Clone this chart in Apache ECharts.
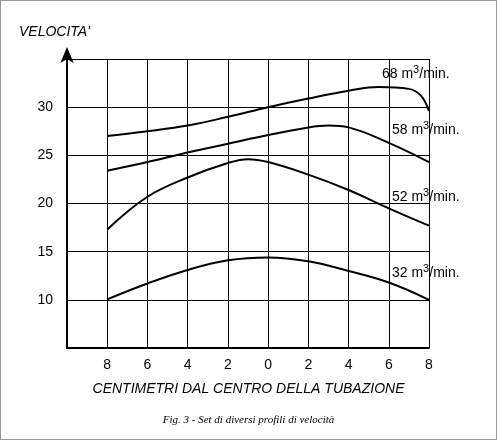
<!DOCTYPE html>
<html><head><meta charset="utf-8">
<script src="https://cdn.jsdelivr.net/npm/echarts@6/dist/echarts.min.js"></script>
<style>html,body{margin:0;padding:0;background:#fff}#c{width:497px;height:440px;box-sizing:border-box;border:1px solid #999}</style>
</head><body><div id="c"></div>
<script>
const s68 = [[-8,27],[-6,27.5],[-4,28.1],[-2,29],[0,30],[2,30.9],[4,31.7],[5.5,32.1],[7,31.9],[7.6,31.2],[8,29.6]];
const s58 = [[-8,23.4],[-6,24.3],[-4,25.3],[-2,26.2],[0,27.1],[2,27.9],[3,28.1],[4,27.9],[6,26.3],[8,24.3]];
const s52 = [[-8,17.3],[-6,20.7],[-4,22.7],[-2,24.2],[-1,24.6],[0,24.3],[2,23],[4,21.4],[6,19.5],[8,17.7]];
const s32 = [[-8,10.05],[-6,11.7],[-4,13.1],[-2,14.1],[0,14.4],[2,14],[4,13],[6,11.8],[8,10]];
const names = ['68','58','52','32'];
const offsets = [[-52,-37],[-42,-32],[-42,-29],[-42,-27]];
const F = 'Liberation Sans, Arial, sans-serif';
function mk(data, i){
  return {type:'line', smooth:0.4, symbol:'none', lineStyle:{color:'#000',width:2}, data:data,
    endLabel:{show:true, distance:5, offset:offsets[i],
      formatter: names[i]+' m{s|3}/min.', color:'#000', fontFamily:F, fontSize:14,
      rich:{s:{fontSize:11, padding:[0,0,8,0], fontFamily:F, color:'#000'}}}};
}
const ch = echarts.init(document.getElementById('c'));
ch.setOption({
  animation:false,
  grid:{left:66, right:67, top:58, bottom:91},
  title:[{text:"VELOCITA'", left:13, top:19, textStyle:{fontFamily:F, fontSize:14, fontStyle:'italic', fontWeight:'normal', color:'#000'}},
         {text:'CENTIMETRI DAL CENTRO DELLA TUBAZIONE', left:'center', top:376, textStyle:{fontFamily:F, fontSize:14, fontStyle:'italic', fontWeight:'normal', color:'#000'}},
         {text:'Fig. 3 - Set di diversi profili di velocità', left:'center', top:409, textStyle:{fontFamily:'Liberation Serif, serif', fontSize:11, fontStyle:'italic', fontWeight:'normal', color:'#000'}}],
  xAxis:{type:'value', min:-10, max:8, interval:2,
    axisLine:{onZero:false, lineStyle:{color:'#000',width:2}}, axisTick:{show:false},
    axisLabel:{color:'#000', fontFamily:F, fontSize:14, margin:10, formatter:v=> v===-10?'':Math.abs(v)},
    splitLine:{show:true, lineStyle:{color:'#000',width:1}}},
  yAxis:{type:'value', min:5, max:35, interval:5,
    axisLine:{show:true, onZero:false, symbol:['none','arrow'], symbolSize:[10,16], symbolOffset:[0,12], lineStyle:{color:'#000',width:2}},
    axisTick:{show:false},
    axisLabel:{color:'#000', fontFamily:F, fontSize:14, margin:14, formatter:v=> (v>=10&&v<=30)?v:''},
    splitLine:{show:true, lineStyle:{color:'#000',width:1}}},
  series:[mk(s68,0), mk(s58,1), mk(s52,2), mk(s32,3)]
});
</script></body></html>
